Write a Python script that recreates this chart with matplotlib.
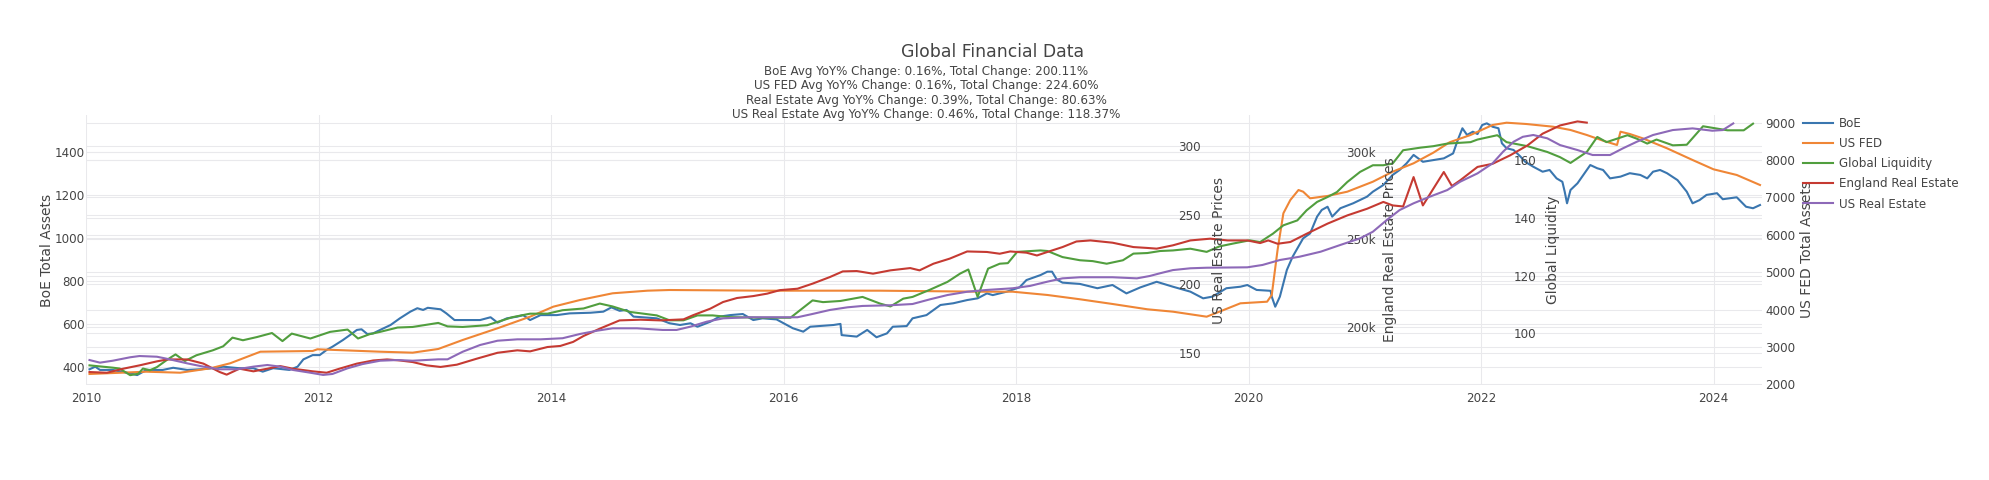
import matplotlib
matplotlib.use("Agg")
import matplotlib.pyplot as plt
from matplotlib.ticker import FixedFormatter

plt.rcParams['font.family'] = ['DejaVu Sans']

# ---- data (decimal years / values) ----
boe_t = [2010.03, 2010.08, 2010.12, 2010.23, 2010.38, 2010.44, 2010.52, 2010.66, 2010.75, 2010.87,
         2010.98, 2011.09, 2011.18, 2011.32, 2011.44, 2011.52, 2011.61, 2011.75, 2011.82, 2011.87,
         2011.95, 2012.01, 2012.07, 2012.12, 2012.21, 2012.27, 2012.33, 2012.37, 2012.42, 2012.47,
         2012.53, 2012.62, 2012.70, 2012.79, 2012.85, 2012.90, 2012.94, 2013.05, 2013.10, 2013.17,
         2013.33, 2013.39, 2013.48, 2013.54, 2013.62, 2013.71, 2013.76, 2013.82, 2013.91, 2014.05,
         2014.16, 2014.34, 2014.45, 2014.52, 2014.59, 2014.65, 2014.71, 2014.79, 2014.91, 2015.02,
         2015.11, 2015.20, 2015.26, 2015.37, 2015.45, 2015.54, 2015.65, 2015.74, 2015.82, 2015.94,
         2016.08, 2016.17, 2016.23, 2016.43, 2016.49, 2016.50, 2016.63, 2016.72, 2016.80, 2016.89,
         2016.94, 2017.06, 2017.11, 2017.23, 2017.35, 2017.46, 2017.58, 2017.67, 2017.75, 2017.80,
         2017.92, 2018.03, 2018.09, 2018.21, 2018.27, 2018.31, 2018.35, 2018.40, 2018.55, 2018.70,
         2018.83, 2018.95, 2019.07, 2019.21, 2019.35, 2019.50, 2019.61, 2019.69, 2019.81, 2019.93,
         2019.99, 2020.07, 2020.19, 2020.20, 2020.23, 2020.27, 2020.33, 2020.38, 2020.47, 2020.53,
         2020.59, 2020.63, 2020.68, 2020.72, 2020.79, 2020.90, 2021.02, 2021.07, 2021.16, 2021.24,
         2021.30, 2021.36, 2021.42, 2021.50, 2021.59, 2021.68, 2021.76, 2021.80, 2021.84, 2021.88,
         2021.93, 2021.97, 2022.01, 2022.05, 2022.10, 2022.15, 2022.18, 2022.22, 2022.28, 2022.34,
         2022.38, 2022.45, 2022.53, 2022.59, 2022.65, 2022.70, 2022.72, 2022.74, 2022.77, 2022.83,
         2022.88, 2022.94, 2023.00, 2023.05, 2023.11, 2023.20, 2023.28, 2023.37, 2023.43, 2023.48,
         2023.54, 2023.60, 2023.69, 2023.77, 2023.82, 2023.88, 2023.94, 2024.03, 2024.08, 2024.20,
         2024.28, 2024.34, 2024.40]
boe_v = [388, 400, 385, 385, 369, 361, 385, 385, 395, 385,
         388, 393, 400, 393, 393, 377, 393, 385, 400, 434,
         454, 454, 478, 493, 524, 547, 571, 574, 552, 555,
         571, 594, 625, 656, 672, 664, 674, 667, 648, 617,
         617, 617, 630, 605, 625, 633, 640, 617, 640, 640,
         648, 651, 656, 676, 660, 664, 633, 630, 625, 602,
         594, 602, 586, 609, 633, 640, 645, 617, 625, 620,
         579, 563, 586, 594, 599, 547, 540, 571, 537, 555,
         586, 589, 625, 640, 687, 695, 710, 718, 741, 733,
         749, 769, 803, 826, 842, 842, 806, 791, 785, 765,
         780, 741, 769, 795, 772, 749, 718, 726, 765, 772,
         780, 757, 753, 726, 679, 726, 850, 912, 997, 1020,
         1098, 1129, 1144, 1098, 1137, 1160, 1191, 1214, 1245, 1292,
         1315, 1346, 1385, 1353, 1361, 1369, 1392, 1454, 1509, 1478,
         1493, 1482, 1524, 1532, 1516, 1509, 1439, 1416, 1408, 1377,
         1353, 1330, 1307, 1315, 1276, 1260, 1214, 1160, 1222, 1253,
         1292, 1338, 1323, 1315, 1276, 1284, 1300, 1292, 1276, 1307,
         1315, 1300, 1268, 1214, 1160, 1175, 1199, 1207, 1179, 1188,
         1144, 1137, 1152]

fed_t = [2010.03, 2010.52, 2010.81, 2011.07, 2011.24, 2011.50, 2011.95, 2011.99, 2012.53, 2012.81,
         2013.03, 2013.24, 2013.54, 2013.82, 2014.02, 2014.25, 2014.53, 2014.83, 2015.02, 2015.82,
         2016.83, 2017.69, 2017.97, 2018.27, 2018.55, 2018.83, 2019.13, 2019.35, 2019.64, 2019.75,
         2019.93, 2020.16, 2020.20, 2020.25, 2020.30, 2020.36, 2020.43, 2020.47, 2020.53, 2020.68,
         2020.85, 2021.07, 2021.24, 2021.42, 2021.59, 2021.73, 2021.91, 2022.10, 2022.22, 2022.39,
         2022.62, 2022.77, 2022.91, 2023.05, 2023.17, 2023.20, 2023.28, 2023.39, 2023.60, 2023.82,
         2024.00, 2024.20, 2024.40]
fed_v = [2276, 2337, 2310, 2428, 2562, 2872, 2891, 2937, 2872, 2846,
         2945, 3185, 3499, 3809, 4077, 4256, 4435, 4505, 4523, 4505,
         4505, 4478, 4478, 4390, 4275, 4149, 4007, 3943, 3809, 3943,
         4167, 4210, 4390, 5594, 6576, 6932, 7199, 7154, 6977, 7039,
         7154, 7421, 7689, 7914, 8198, 8476, 8671, 8939, 9000, 8965,
         8893, 8805, 8671, 8519, 8404, 8759, 8698, 8583, 8315, 8002,
         7753, 7601, 7333]

gl_t = [2010.03, 2010.23, 2010.29, 2010.38, 2010.45, 2010.49, 2010.55, 2010.61, 2010.70, 2010.77,
        2010.85, 2010.95, 2011.09, 2011.18, 2011.26, 2011.35, 2011.47, 2011.60, 2011.69, 2011.77,
        2011.93, 2012.10, 2012.25, 2012.34, 2012.44, 2012.53, 2012.68, 2012.81, 2013.03, 2013.11,
        2013.24, 2013.45, 2013.67, 2013.82, 2013.97, 2014.10, 2014.28, 2014.42, 2014.53, 2014.68,
        2014.91, 2015.02, 2015.14, 2015.26, 2015.39, 2015.54, 2015.82, 2016.06, 2016.25, 2016.34,
        2016.49, 2016.68, 2016.83, 2016.92, 2017.03, 2017.11, 2017.26, 2017.41, 2017.52, 2017.59,
        2017.67, 2017.76, 2017.86, 2017.93, 2018.01, 2018.21, 2018.27, 2018.40, 2018.55, 2018.66,
        2018.78, 2018.92, 2019.01, 2019.13, 2019.24, 2019.35, 2019.50, 2019.64, 2019.75, 2019.87,
        2020.01, 2020.10, 2020.21, 2020.30, 2020.42, 2020.50, 2020.59, 2020.68, 2020.76, 2020.85,
        2020.96, 2021.07, 2021.16, 2021.24, 2021.33, 2021.48, 2021.59, 2021.71, 2021.91, 2021.97,
        2022.14, 2022.22, 2022.40, 2022.57, 2022.68, 2022.77, 2022.91, 2023.00, 2023.08, 2023.17,
        2023.26, 2023.34, 2023.43, 2023.51, 2023.65, 2023.77, 2023.91, 2024.03, 2024.12, 2024.26,
        2024.34]
gl_v = [88.9, 88.1, 87.8, 85.5, 86.0, 87.8, 87.2, 88.3, 90.9, 92.7,
        90.4, 92.4, 94.1, 95.5, 98.5, 97.6, 98.7, 100.1, 97.3, 99.9,
        98.2, 100.5, 101.3, 98.2, 99.7, 100.5, 102.0, 102.2, 103.6, 102.4,
        102.2, 102.8, 105.6, 106.8, 106.8, 108.0, 108.6, 110.3, 109.3, 107.4,
        106.2, 104.5, 104.5, 106.2, 106.2, 105.6, 105.4, 105.4, 111.4, 110.8,
        111.2, 112.6, 110.3, 109.3, 112.0, 112.6, 115.1, 117.8, 120.7, 122.1,
        112.6, 122.4, 124.1, 124.3, 128.2, 128.7, 128.5, 126.4, 125.3, 125.0,
        124.1, 125.3, 127.6, 127.8, 128.5, 128.7, 129.3, 128.2, 130.1, 131.1,
        132.2, 131.6, 134.5, 137.4, 139.1, 142.6, 145.5, 147.2, 148.9, 152.4,
        155.9, 158.2, 158.2, 158.8, 163.4, 164.3, 164.8, 165.7, 166.2, 167.1,
        168.6, 166.2, 164.8, 162.8, 161.0, 159.0, 162.8, 168.0, 166.2, 167.4,
        168.6, 167.4, 165.7, 167.1, 165.1, 165.3, 171.7, 170.9, 170.3, 170.3,
        172.6]

eng_t = [2010.03, 2010.18, 2010.32, 2010.46, 2010.61, 2010.70, 2010.87, 2011.01, 2011.15, 2011.21,
         2011.32, 2011.44, 2011.56, 2011.67, 2011.78, 2011.95, 2012.07, 2012.18, 2012.33, 2012.47,
         2012.59, 2012.70, 2012.81, 2012.93, 2013.05, 2013.19, 2013.36, 2013.54, 2013.71, 2013.82,
         2013.97, 2014.08, 2014.19, 2014.28, 2014.42, 2014.59, 2014.77, 2014.94, 2015.14, 2015.22,
         2015.37, 2015.48, 2015.60, 2015.74, 2015.86, 2015.97, 2016.12, 2016.25, 2016.40, 2016.51,
         2016.63, 2016.77, 2016.92, 2017.09, 2017.17, 2017.29, 2017.43, 2017.58, 2017.75, 2017.86,
         2017.95, 2018.09, 2018.18, 2018.27, 2018.40, 2018.52, 2018.64, 2018.83, 2019.01, 2019.13,
         2019.21, 2019.35, 2019.50, 2019.67, 2019.82, 2019.99, 2020.10, 2020.17, 2020.25, 2020.36,
         2020.50, 2020.68, 2020.85, 2021.02, 2021.16, 2021.24, 2021.33, 2021.42, 2021.50, 2021.68,
         2021.75, 2021.82, 2021.97, 2022.10, 2022.25, 2022.40, 2022.53, 2022.68, 2022.83, 2022.91]
eng_v = [174100, 173700, 176000, 177900, 180200, 181300, 181300, 178900, 174100, 172600,
         176000, 174500, 176000, 177500, 176000, 174500, 173700, 176000, 178900, 180700,
         181300, 180700, 179800, 177900, 177000, 178300, 181700, 185100, 186500, 185900,
         188400, 189000, 191300, 194700, 198900, 203600, 204000, 203600, 204200, 206500,
         210300, 214100, 216400, 217500, 218900, 220900, 221700, 224600, 228400, 231600,
         231800, 230300, 232200, 233500, 232200, 236000, 238900, 243000, 242700, 241700,
         243000, 242300, 240700, 242700, 245500, 248700, 249300, 248000, 245500, 245000,
         244600, 246500, 249300, 250300, 249300, 249300, 247800, 249300, 247400, 248400,
         253100, 258900, 263600, 267400, 271300, 269300, 268700, 285500, 269300, 288400,
         280400, 283600, 291300, 293100, 297900, 303600, 310300, 315000, 317300, 316600]

us_t = [2010.03, 2010.12, 2010.23, 2010.38, 2010.46, 2010.61, 2010.72, 2010.87, 2011.01, 2011.15,
        2011.30, 2011.44, 2011.56, 2011.67, 2011.78, 2011.93, 2012.04, 2012.12, 2012.25, 2012.38,
        2012.53, 2012.68, 2012.81, 2013.03, 2013.11, 2013.24, 2013.39, 2013.54, 2013.71, 2013.91,
        2014.10, 2014.25, 2014.40, 2014.53, 2014.74, 2014.96, 2015.08, 2015.20, 2015.34, 2015.48,
        2015.69, 2015.91, 2016.12, 2016.25, 2016.40, 2016.55, 2016.68, 2016.92, 2017.11, 2017.26,
        2017.41, 2017.58, 2017.75, 2017.97, 2018.12, 2018.27, 2018.40, 2018.55, 2018.83, 2019.04,
        2019.15, 2019.24, 2019.35, 2019.50, 2019.64, 2019.99, 2020.12, 2020.27, 2020.44, 2020.62,
        2020.79, 2020.96, 2021.07, 2021.19, 2021.30, 2021.42, 2021.56, 2021.71, 2021.82, 2021.97,
        2022.10, 2022.19, 2022.28, 2022.36, 2022.45, 2022.57, 2022.68, 2022.83, 2022.96, 2023.11,
        2023.22, 2023.34, 2023.48, 2023.65, 2023.82, 2023.99, 2024.08, 2024.17]
us_v = [144.9, 143.0, 144.4, 146.9, 147.8, 147.3, 145.4, 142.5, 140.1, 138.2,
        138.2, 140.1, 141.3, 140.1, 137.7, 135.7, 134.1, 134.8, 138.9, 142.0,
        144.4, 144.9, 144.4, 145.4, 145.4, 150.9, 155.8, 158.9, 159.9, 159.9,
        160.7, 163.8, 166.2, 167.9, 167.9, 166.7, 166.7, 169.1, 172.7, 175.1,
        175.9, 175.9, 175.9, 178.3, 181.2, 183.1, 184.1, 184.6, 185.5, 188.9,
        192.0, 194.4, 195.7, 196.9, 198.6, 201.7, 204.1, 204.9, 204.9, 204.1,
        205.8, 207.8, 210.1, 211.4, 211.8, 212.1, 213.8, 217.4, 219.8, 223.4,
        228.3, 233.1, 237.9, 246.4, 253.6, 258.5, 263.3, 268.1, 274.1, 280.2,
        287.5, 295.9, 303.1, 306.7, 308.0, 305.6, 300.7, 297.1, 293.5, 293.5,
        298.3, 303.1, 308.0, 311.6, 312.8, 311.1, 311.6, 316.4]

years = [2010, 2012, 2014, 2016, 2018, 2020, 2022, 2024]
subtitle = ["BoE Avg YoY% Change: 0.16%, Total Change: 200.11%",
            "US FED Avg YoY% Change: 0.16%, Total Change: 224.60%",
            "Real Estate Avg YoY% Change: 0.39%, Total Change: 80.63%",
            "US Real Estate Avg YoY% Change: 0.46%, Total Change: 118.37%"]

TXT = '#444444'
GRID = '#e9e9ec'
W, H = 1990, 480
L, R, T, B = 86, 1762, 115, 385

fig = plt.figure(figsize=(W / 100, H / 100), dpi=100)
ax = fig.add_axes([L / W, 1 - B / H, (R - L) / W, (B - T) / H])
ax_fed = ax.twinx()
ax_gl = ax.twinx()
ax_eng = ax.twinx()
ax_us = ax.twinx()

# axis, times, values, colour, name, ylim, ticks, tick labels, spine pos, title, title x
specs = [
    (ax, boe_t, boe_v, '#3a76af', 'BoE', (314.9, 1570.7), [400, 600, 800, 1000, 1200, 1400], None,
     None, 'BoE Total Assets', -0.0191),
    (ax_fed, fed_t, fed_v, '#ef8636', 'US FED', (1981, 9206), list(range(2000, 9001, 1000)), None,
     1.0, 'US FED Total Assets', 1.0227),
    (ax_gl, gl_t, gl_v, '#519e3e', 'Global Liquidity', (82.1, 175.6), [100, 120, 140, 160], None,
     0.85, 'Global Liquidity', 0.8711),
    (ax_eng, eng_t, eng_v, '#c53a32', 'England Real Estate', (166686, 320971), [200000, 250000, 300000],
     ['200k', '250k', '300k'], 0.75, 'England Real Estate Prices', 0.7739),
    (ax_us, us_t, us_v, '#8d69b8', 'US Real Estate', (126.8, 322.5), [150, 200, 250, 300], None,
     0.65, 'US Real Estate Prices', 0.6718),
]

ax.set_xlim(2010, 2010 + (R - L) / 116.25)
ax.set_xticks(years)
ax.set_xticklabels([str(y) for y in years])
ax.tick_params(axis='x', length=0, pad=5, labelsize=8.6, labelcolor=TXT)
ax.grid(axis='x', color=GRID, lw=0.75)
ax.set_axisbelow(True)

handles = []
for a, t, v, col, name, lim, ticks, tlabels, pos, title, tx in specs:
    line, = a.plot(t, v, color=col, lw=1.5, label=name, zorder=2)
    handles.append(line)
    a.set_ylim(*lim)
    a.set_yticks(ticks)
    if tlabels:
        a.yaxis.set_major_formatter(FixedFormatter(tlabels))
    if pos is not None and pos != 1.0:
        a.spines['right'].set_position(('axes', pos))
    for s in a.spines.values():
        s.set_visible(False)
    a.tick_params(axis='y', length=0, pad=2.2 if a is not ax else 1.0,
                  labelsize=8.6, labelcolor=TXT)
    a.set_ylabel(title, fontsize=10, color=TXT)
    a.yaxis.set_label_coords(tx, 0.5)

# horizontal grid of every y axis, drawn under all traces
for a, *_rest in specs:
    for tk in a.get_yticks():
        f = a.transLimits.transform((2015, tk))[1]
        ax.plot([0, 1], [f, f], transform=ax.transAxes, color=GRID, lw=0.75, zorder=0.5)

fig.legend(handles, [h.get_label() for h in handles], loc='upper left',
           bbox_to_anchor=(1803 / W, 1 - 117 / H), frameon=False, fontsize=8.6,
           labelcolor=TXT, handlelength=2.5, handletextpad=0.5, labelspacing=0.6,
           borderpad=0, borderaxespad=0)

fig.text(993 / W, 1 - 52 / H, 'Global Financial Data', ha='center', va='center',
         fontsize=12.4, color=TXT)
for i, s in enumerate(subtitle):
    fig.text(926 / W, 1 - (71.7 + 14.2 * i) / H, s, ha='center', va='center',
             fontsize=8.6, color=TXT)

fig.savefig('out.png', dpi=100, facecolor='white')
